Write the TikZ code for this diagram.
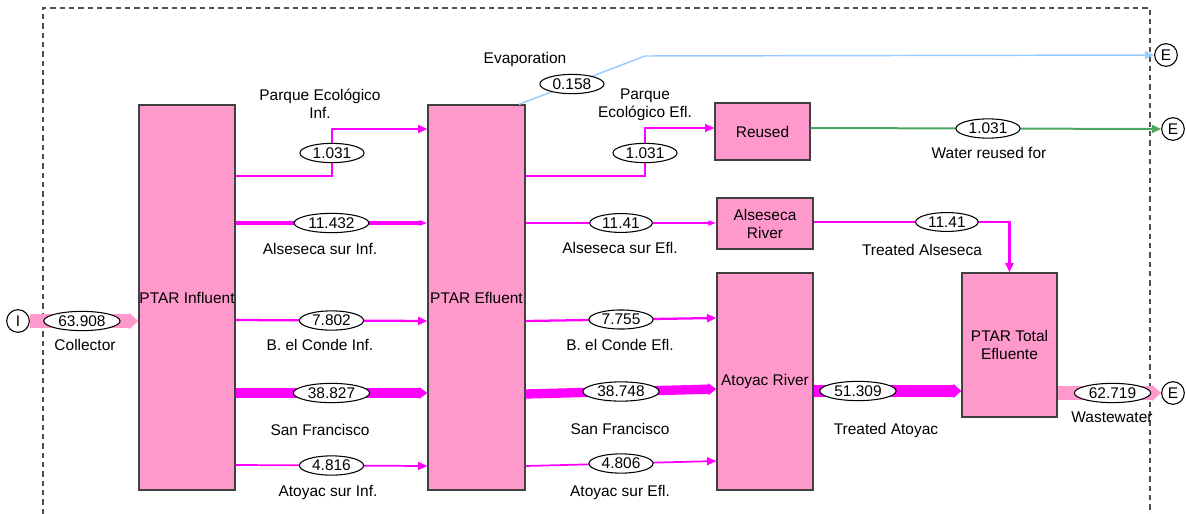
\documentclass[tikz,border=0pt]{standalone}
\usepackage{fontspec}
\setmainfont{Liberation Sans}
\usetikzlibrary{arrows.meta,shapes.geometric,positioning}
\definecolor{BoxClr}{RGB}{255,153,204}
\definecolor{EdgeClr}{RGB}{64,64,64}
\definecolor{FlowClr}{RGB}{255,0,255}
\definecolor{EvapClr}{RGB}{153,204,255}
\definecolor{ReuseClr}{RGB}{76,166,96}
\definecolor{FrameClr}{RGB}{80,80,80}

\begin{document}
\begin{tikzpicture}[x=0.75pt,y=-0.75pt,font=\fontsize{11.6}{13.5}\selectfont,
  box/.style={draw=EdgeClr,line width=1pt,fill=BoxClr,align=center,inner sep=0pt},
  term/.style={circle,draw=black,line width=0.8pt,fill=white,minimum size=17pt,inner sep=0pt},
  val/.style={ellipse,draw=black,text=black,line width=0.8pt,fill=white,inner xsep=2.5pt,inner ysep=1pt},
  lbl/.style={align=center,inner sep=1pt},
  flow/.style={draw=FlowClr,line width=1.3pt,-{Triangle[length=7pt,width=6pt]}},
  bigflow/.style={draw=FlowClr,-{Triangle[length=6pt,width=1.5pt 1]}},
  mainflow/.style={draw=BoxClr,line width=10.5pt,-{Triangle[length=7pt,width=1.5pt 1]}},
  frame/.style={draw=FrameClr,line width=0.8pt,dash pattern=on 4pt off 3pt}]
\useasboundingbox (0,0) rectangle (1186,514);

% dashed border of the system
\draw[frame] (43,514) |- (1150,8) -- (1150,514);

% processes
\node[box,minimum width=72pt,minimum height=288.75pt] (inf) at (187,297.5) {PTAR Influent};
\node[box,minimum width=72.75pt,minimum height=288.75pt] (efl) at (476.5,297.5) {PTAR Efluent};
\node[box,minimum width=71.25pt,minimum height=42.75pt] (reu) at (762.5,131.5) {Reused};
\node[box,minimum width=72pt,minimum height=38.25pt] (als) at (765,223.5) {Alseseca\\River};
\node[box,minimum width=72pt,minimum height=162.75pt] (ato) at (765,381.5) {Atoyac River};
\node[box,minimum width=71.25pt,minimum height=108pt] (tot) at (1009.5,345) {PTAR Total\\Efluente};

% sources and sinks
\node[term] (ti) at (18,321) {I};
\node[term] (te1) at (1166,55) {E};
\node[term] (te2) at (1173,129) {E};
\node[term] (te3) at (1173,393) {E};

% inflow
\draw[mainflow] (ti.east) -- node[val,pos=.48] (vcol) {63.908} (inf.west |- ti);
\node[lbl] (lcol) at (85,345) {Collector};

% PTAR Influent -> PTAR Efluent
\draw[flow] (inf.east |- 0,176) -| (332,129) -- (efl.west |- 0,129);
\node[val] (vpi) at (332,153) {1.031};
\node[lbl] (lpi) at (320,104) {Parque Ecológico\\Inf.};

\draw[bigflow,line width=2.3pt] (inf.east |- 0,223) -- node[val] (vasi) {11.432} (efl.west |- 0,223);
\node[lbl] (lasi) at (320,249) {Alseseca sur Inf.};

\draw[flow,line width=1.7pt] (inf.east |- 0,320) -- node[val] (vbci) {7.802} (efl.west |- 0,321);
\node[lbl] (lbci) at (320,345) {B. el Conde Inf.};

\draw[bigflow,line width=7pt] (inf.east |- 0,393) -- node[val] (vsfi) {38.827} (efl.west |- 0,393);
\node[lbl] (lsfi) at (320,430) {San Francisco};

\draw[flow] (inf.east |- 0,465) -- node[val] (vati) {4.816} (efl.west |- 0,466);
\node[lbl] (lati) at (328,493) {Atoyac sur Inf.};

% PTAR Efluent -> receivers
\draw[draw=EvapClr,line width=1.1pt,-{Triangle[length=7pt,width=6pt]}]
  ([xshift=-5pt]efl.north east) -- node[val,pos=.42] (vev) {0.158} (645,56) -- (te1.west);
\node[lbl] (lev) at (525,60) {Evaporation};

\draw[flow] (efl.east |- 0,176) -| (645,128) -- (reu.west |- 0,128);
\node[val] (vpe) at (645,153) {1.031};
\node[lbl] (lpe) at (645,105) {Parque\\Ecológico Efl.};

\draw[bigflow,line width=2.2pt] (efl.east |- 0,223) -- node[val] (vase) {11.41} (als.west |- 0,223);
\node[lbl] (lase) at (620,248) {Alseseca sur Efl.};

\draw[flow,line width=1.7pt] (efl.east |- 0,321) -- node[val] (vbce) {7.755} (ato.west |- 0,318);
\node[lbl] (lbce) at (620,345) {B. el Conde Efl.};

\draw[bigflow,line width=7pt] (efl.east |- 0,394) -- node[val] (vsfe) {38.748} (ato.west |- 0,389);
\node[lbl] (lsfe) at (620,429) {San Francisco};

\draw[flow] (efl.east |- 0,466) -- node[val] (vate) {4.806} (ato.west |- 0,461);
\node[lbl] (late) at (620,492) {Atoyac sur Efl.};

% reuse and rivers
\draw[draw=ReuseClr,line width=1.5pt,-{Triangle[length=7pt,width=6pt]}]
  (reu.east |- 0,128) -- node[val,pos=.506] (vwr) {1.031} (te2.west);
\node[lbl] (lwr) at (989,153) {Water reused for};

\draw[flow,line width=2.2pt] (als.east |- 0,222) -| node[val,pos=.34] (vta) {11.41} (tot.north);
\node[lbl] (lta) at (922,250) {Treated Alseseca};

\draw[bigflow,line width=9pt] (ato.east |- 0,391) -- node[val,pos=.3] (vtat) {51.309} (tot.west |- 0,391);
\node[lbl] (ltat) at (886,430) {Treated Atoyac};

\draw[mainflow] (tot.east |- te3) -- node[val,pos=.53] (vww) {62.719} (te3.west);
\node[lbl] (lww) at (1112,417) {Wastewater};
\end{tikzpicture}
\end{document}
